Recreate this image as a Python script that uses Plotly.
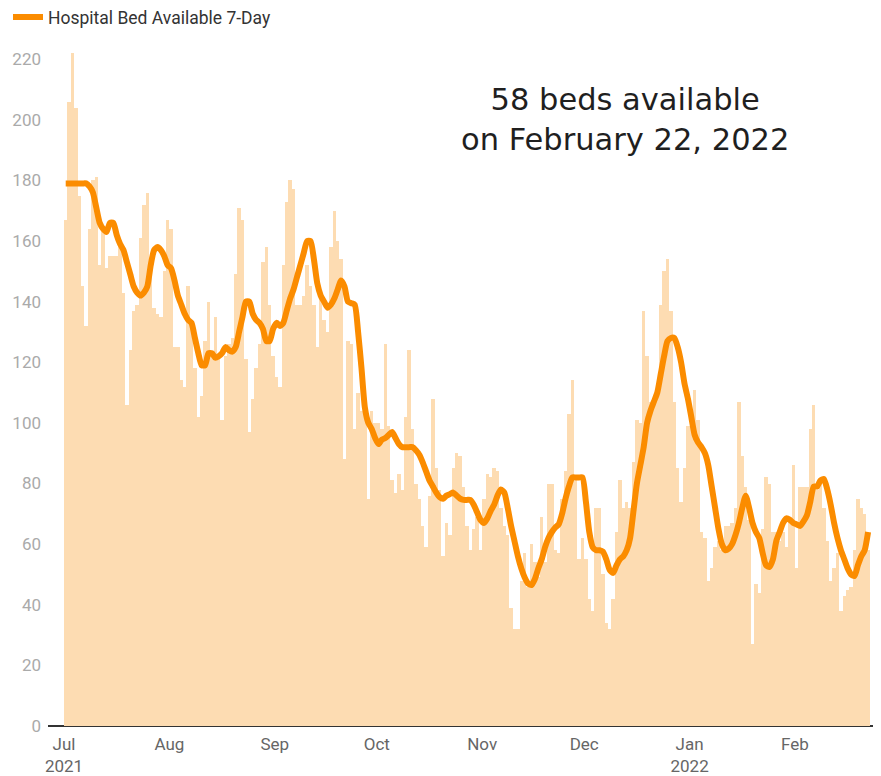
import pandas as pd
import plotly.graph_objects as go

start_date = "2021-07-01"

# Daily hospital beds available (bars), by month
beds_jul = [167, 206, 222, 204, 175, 145, 132, 164, 180, 181, 152, 165, 151, 155, 155, 155,
            160, 143, 106, 124, 137, 139, 161, 172, 176, 148, 138, 136, 135, 150, 167]
beds_aug = [164, 125, 125, 114, 112, 145, 133, 118, 102, 109, 127, 140, 122, 135, 121, 101,
            122, 126, 128, 149, 171, 167, 121, 97, 108, 118, 126, 153, 158, 139, 122]
beds_sep = [115, 112, 152, 173, 180, 177, 139, 139, 142, 152, 145, 139, 125, 141, 134, 130,
            158, 170, 160, 154, 88, 127, 126, 98, 110, 104, 104, 75, 104, 100]
beds_oct = [100, 98, 126, 99, 81, 77, 83, 78, 102, 124, 98, 80, 75, 66, 59, 76,
            108, 85, 78, 56, 67, 63, 85, 90, 89, 79, 66, 58, 65, 69, 58]
beds_nov = [75, 83, 82, 85, 84, 72, 66, 63, 39, 32, 32, 48, 57, 46, 60, 54,
            49, 69, 54, 80, 80, 58, 57, 75, 84, 103, 114, 82, 55, 62]
beds_dec = [55, 42, 38, 72, 72, 50, 34, 32, 42, 64, 81, 72, 74, 72, 87, 101,
            100, 137, 122, 107, 108, 110, 139, 150, 154, 137, 107, 85, 74, 85, 99]
beds_jan = [104, 111, 101, 64, 62, 48, 52, 59, 61, 58, 66, 66, 67, 72, 107, 89,
            79, 68, 27, 47, 44, 65, 82, 80, 64, 64, 61, 64, 59, 68, 86]
beds_feb = [52, 79, 79, 79, 98, 106, 78, 80, 72, 61, 48, 52, 57, 38, 43, 45,
            46, 58, 75, 72, 70, 58]

# 7-day line values, by month
avg_jul = [179, 179, 179, 179, 179, 179, 179, 178, 176, 171, 166, 164, 163, 166, 166, 162,
           159, 157, 153, 149, 145, 143, 142, 143, 145, 152, 157, 158, 157, 155, 152]
avg_aug = [151, 147, 142, 139, 136, 134, 133, 128, 123, 119, 119, 123, 123, 121.5, 122, 123,
           125, 124, 123.5, 125, 130, 135, 140, 140, 136, 134, 133, 131, 127, 127, 131]
avg_sep = [133, 132, 133, 137, 141, 144, 148, 152, 156, 160, 160, 154, 146, 142, 140, 138,
           139, 141, 144, 147, 145, 140, 139.5, 139, 130, 118, 105, 100, 98, 95]
avg_oct = [93, 94.5, 95, 96, 97, 95, 93, 92, 92, 92, 92, 91, 89.5, 87, 84, 81,
           79, 77, 75.5, 75, 76, 76.5, 77, 76, 75, 74.6, 74.6, 74.6, 73, 70.5, 68]
avg_nov = [67, 68.5, 71, 73, 76, 78, 77, 72, 66, 61, 56, 52, 49, 47, 46.5, 48.5,
           52, 55, 59, 62, 64, 65.5, 66.5, 70, 75, 79, 82, 82, 82, 82]
avg_dec = [74, 64, 59, 58, 58, 57.5, 55, 51.5, 50.5, 53, 55, 56, 58, 62, 71, 80,
           86, 92, 100, 104, 107, 110, 116, 122, 127, 128, 128, 125, 120, 113, 108]
avg_jan = [102, 96, 93.5, 92, 90, 86, 79, 72, 65, 60, 58, 58.5, 60, 63, 67, 72,
           76, 72, 67, 64, 62, 57, 53, 52.5, 55, 61, 64, 67, 68.5, 68, 67]
avg_feb = [66.5, 66, 67.5, 69.5, 74, 79, 79, 81, 81.5, 78, 73, 67, 62, 58, 55, 52,
           50, 49.5, 53, 56, 58, 64]

y_ticks = [0, 20, 40, 60, 80, 100, 120, 140, 160, 180, 200, 220]
x_tick_dates = ["2021-07-01", "2021-08-01", "2021-09-01", "2021-10-01",
                "2021-11-01", "2021-12-01", "2022-01-01", "2022-02-01"]
x_tick_text = ["Jul<br>2021", "Aug", "Sep", "Oct", "Nov", "Dec", "Jan<br>2022", "Feb"]

beds = beds_jul + beds_aug + beds_sep + beds_oct + beds_nov + beds_dec + beds_jan + beds_feb
avg7 = avg_jul + avg_aug + avg_sep + avg_oct + avg_nov + avg_dec + avg_jan + avg_feb
dates = pd.date_range(start_date, periods=len(beds), freq="D")

BAR_COLOR = "#FDDCB2"
LINE_COLOR = "#FB8C00"
DAY_MS = 86400000
TICK_FONT = "Liberation Sans Narrow, Roboto"

fig = go.Figure()
fig.add_trace(go.Bar(
    x=dates, y=beds, xperiod=DAY_MS, xperiodalignment="middle",
    marker=dict(color=BAR_COLOR, line=dict(width=0)),
    showlegend=False, hoverinfo="skip",
))
fig.add_trace(go.Scatter(
    x=dates, y=avg7, xperiod=DAY_MS, xperiodalignment="middle",
    mode="lines", name="Hospital Bed Available 7-Day",
    line=dict(color=LINE_COLOR, width=6, shape="spline", smoothing=0.6),
))

fig.add_annotation(
    xref="paper", yref="paper", x=0.695, y=0.890,
    text="58 beds available<br>on February 22, 2022",
    showarrow=False, align="center",
    font=dict(family="DejaVu Sans", size=30.5, color="#1f1f1f"),
    xanchor="center", yanchor="middle",
)

# The page adds an 8px body margin, so the figure is sized to fit the window.
fig.update_layout(
    width=873, height=768,
    margin=dict(l=40, r=3, t=36, b=50, autoexpand=False),
    paper_bgcolor="white", plot_bgcolor="white",
    bargap=0,
    font=dict(family="Roboto", size=14, color="#666666"),
    legend=dict(
        orientation="h", xref="container", yref="container",
        x=-0.009, y=0.988, xanchor="left", yanchor="middle",
        font=dict(family="Roboto", size=17.5, color="#333333"),
        bgcolor="rgba(0,0,0,0)", itemwidth=30,
    ),
    xaxis=dict(
        type="date",
        range=["2021-06-26 07:00", "2022-02-25 10:00"],
        tickvals=x_tick_dates, ticktext=x_tick_text,
        showgrid=False, zeroline=False,
        showline=False, ticks="", automargin=False,
        tickfont=dict(family=TICK_FONT, size=17, color="#666666"),
        ticklabelstandoff=6,
    ),
    yaxis=dict(
        range=[0, 225],
        tickvals=y_ticks,
        showgrid=False, zeroline=True, zerolinecolor="#333333", zerolinewidth=2,
        showline=False, ticks="", automargin=False,
        tickfont=dict(family=TICK_FONT, size=17, color="#aaaaaa"),
        ticklabelstandoff=6,
    ),
)

fig.write_html("out.html")
